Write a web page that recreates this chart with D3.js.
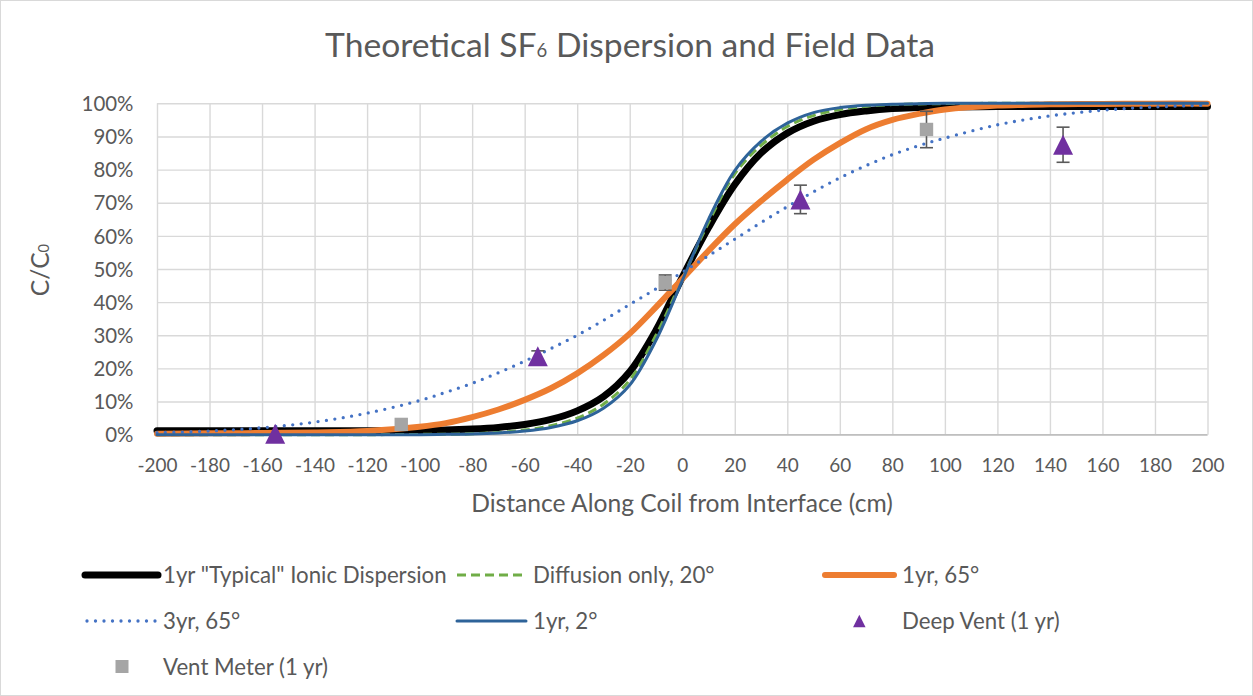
<!DOCTYPE html>
<html><head><meta charset="utf-8">
<script src="https://cdn.jsdelivr.net/npm/d3@7/dist/d3.min.js"></script>
<style>
body{margin:0;background:#fff}
svg{display:block}
text{font-family:Lato,"Open Sans",sans-serif;fill:#595959}
</style>
</head><body>
<svg id="chart" width="1253" height="696"></svg>
<script>
// ---- data ----
const distance = [-200,-180,-160,-140,-120,-100,-90,-80,-70,-60,-50,-40,-30,-20,-10,0,10,20,30,40,50,60,70,80,90,100,120,140,160,180,200];
const typical1yr = [.012,.012,.012,.012,.012,.013,.014,.017,.022,.031,.046,.072,.115,.19,.315,.475,.625,.755,.85,.91,.946,.966,.977,.984,.987,.989,.99,.99,.99,.99,.99];
const diffusion20 = [0,0,0,0,0,.001,.0015,.003,.007,.014,.027,.05,.092,.165,.3,.47,.64,.787,.873,.93,.963,.981,.991,.996,.998,.999,1,1,1,1,1];
const oneYr65 = [.003,.004,.005,.007,.011,.024,.035,.053,.076,.105,.14,.185,.24,.305,.385,.47,.555,.635,.705,.77,.83,.88,.922,.95,.968,.981,.993,.997,.998,.999,.999];
const threeYr65 = [.006,.011,.021,.038,.065,.103,.128,.155,.187,.222,.26,.30,.345,.393,.44,.49,.54,.59,.64,.688,.733,.775,.812,.845,.872,.895,.935,.962,.979,.989,.994];
const oneYr2 = [0,0,0,0,0,0,.001,.002,.005,.011,.022,.042,.08,.15,.285,.465,.65,.797,.885,.94,.972,.987,.994,.997,.999,1,1,1,1,1,1];

const deepVentX = [-155,-55,45,145];
const deepVentY = [0.003,0.237,0.71,0.875];
const deepVentErr = [0,0.016,0.043,0.053];

const ventMeterX = [-107,-6.5,93];
const ventMeterY = [0.031,0.459,0.921];
const ventMeterErr = [0,0.023,0.055];

const xTicks = d3.range(-200,201,20);
const yTicks = d3.range(0,1.0001,0.1);

const seriesNames = ['1yr "Typical" Ionic Dispersion','Diffusion only, 20°','1yr, 65°','3yr, 65°','1yr, 2°','Deep Vent (1 yr)','Vent Meter (1 yr)'];

// ---- layout ----
const svg = d3.select('#chart');
const W = 1253, H = 696;
const plot = {left:157, right:1207.5, top:103.3, bottom:434.7};
const x = d3.scaleLinear().domain([-200,200]).range([plot.left, plot.right]);
const y = d3.scaleLinear().domain([0,1]).range([plot.bottom, plot.top]);

svg.append('rect').attr('x',0.5).attr('y',0.5).attr('width',W-1).attr('height',H-1)
  .attr('fill','#fff').attr('stroke','#d9d9d9');

function fit(sel, target, base){
  sel.style('font-size', base+'px');
  const w = sel.node().getComputedTextLength();
  return base*target/w;
}

// gridlines + axes
const gx = svg.append('g').attr('transform',`translate(0,${plot.bottom})`)
  .call(d3.axisBottom(x).tickValues(xTicks).tickSize(-(plot.bottom-plot.top)).tickFormat(d=>d).tickPadding(0));
gx.select('.domain').remove();
gx.selectAll('line').attr('stroke','#d9d9d9').attr('stroke-width',1.4);
const gy = svg.append('g').attr('transform',`translate(${plot.left},0)`)
  .call(d3.axisLeft(y).tickValues(yTicks).tickSize(-(plot.right-plot.left)).tickFormat(d3.format('.0%')).tickPadding(0));
gy.select('.domain').remove();
gy.selectAll('line').attr('stroke','#d9d9d9').attr('stroke-width',1.4);
svg.append('line').attr('x1',plot.left).attr('x2',plot.right).attr('y1',plot.bottom).attr('y2',plot.bottom)
  .attr('stroke','#bfbfbf').attr('stroke-width',1.5);

// tick label sizing
const yLbl = gy.selectAll('text');
const ySize = fit(d3.select(yLbl.nodes()[yLbl.size()-1]), 52, 20);
yLbl.style('font-size', ySize+'px').attr('fill','#595959').attr('x',-23.5).attr('dy','0.35em')
  .style('font-family','Lato,"Open Sans",sans-serif');
const xLbl = gx.selectAll('text');
const xSize = fit(d3.select(xLbl.nodes()[0]), 40, 20);
xLbl.style('font-size', xSize+'px').attr('fill','#595959').attr('y',30.3).attr('dy','0.35em')
  .style('font-family','Lato,"Open Sans",sans-serif');

// curves
const line = d3.line().curve(d3.curveCatmullRom.alpha(0.5)).x((d,i)=>x(distance[i])).y(d=>y(d));
const curves = [
  {v:typical1yr, stroke:'#000000', w:7, dash:null, cap:'round'},
  {v:diffusion20, stroke:'#70ad47', w:3, dash:'9,5', cap:'butt'},
  {v:oneYr65, stroke:'#ed7d31', w:6, dash:null, cap:'round'},
  {v:threeYr65, stroke:'#4472c4', w:3.3, dash:'0,8.5', cap:'round'},
  {v:oneYr2, stroke:'#2e6399', w:3, dash:null, cap:'round'}
];
curves.forEach(c=>{
  svg.append('path').attr('d',line(c.v)).attr('fill','none').attr('stroke',c.stroke)
    .attr('stroke-width',c.w).attr('stroke-dasharray',c.dash).attr('stroke-linecap',c.cap)
    .attr('stroke-linejoin','round');
});

// error bars
function errBars(xs, ys, es){
  const g = svg.append('g').attr('stroke','#595959').attr('stroke-width',1.6);
  xs.forEach((xv,i)=>{
    if(!es[i]) return;
    const cx = x(xv), y1 = y(ys[i]+es[i]), y2 = y(ys[i]-es[i]);
    g.append('line').attr('x1',cx).attr('x2',cx).attr('y1',y1).attr('y2',y2);
    g.append('line').attr('x1',cx-6.5).attr('x2',cx+6.5).attr('y1',y1).attr('y2',y1);
    g.append('line').attr('x1',cx-6.5).attr('x2',cx+6.5).attr('y1',y2).attr('y2',y2);
  });
}
function tri(cx, cy, s){
  const p = d3.path();
  p.moveTo(cx, cy - s/2); p.lineTo(cx + s/2, cy + s/2); p.lineTo(cx - s/2, cy + s/2); p.closePath();
  return p.toString();
}
errBars(deepVentX, deepVentY, deepVentErr);
errBars(ventMeterX, ventMeterY, ventMeterErr);
deepVentX.forEach((xv,i)=>{
  svg.append('path').attr('d',tri(x(xv), y(deepVentY[i]), 20)).attr('fill','#7030a0');
});
ventMeterX.forEach((xv,i)=>{
  svg.append('rect').attr('x',x(xv)-6.7).attr('y',y(ventMeterY[i])-6.7).attr('width',13.4).attr('height',13.4).attr('fill','#a5a5a5');
});

// title
const title = svg.append('text').attr('x',630).attr('y',57).attr('text-anchor','middle');
title.append('tspan').text('Theoretical SF');
title.append('tspan').text('6').attr('font-size','0.55em');
title.append('tspan').text(' Dispersion and Field Data');
title.style('font-size', fit(title, 610, 30)+'px');

// axis titles
const xt = svg.append('text').attr('x',682).attr('y',512).attr('text-anchor','middle').text('Distance Along Coil from Interface (cm)');
const xtSize = fit(xt, 422, 22);
xt.style('font-size', xtSize+'px');
const yt = svg.append('text').attr('transform','translate(49,270) rotate(-90)').attr('text-anchor','middle');
yt.append('tspan').text('C/C');
yt.append('tspan').text('0').attr('font-size','0.6em');
yt.style('font-size', xtSize+'px');

// legend
const legendItems = [
  {name:seriesNames[0], type:'line', c:curves[0], x0:85, x1:158, tx:163, cy:575},
  {name:seriesNames[1], type:'line', c:curves[1], x0:457, x1:526, tx:533, cy:575},
  {name:seriesNames[2], type:'line', c:curves[2], x0:825, x1:894, tx:902, cy:575},
  {name:seriesNames[3], type:'line', c:curves[3], x0:87, x1:156, tx:163, cy:621},
  {name:seriesNames[4], type:'line', c:curves[4], x0:457, x1:526, tx:533, cy:621},
  {name:seriesNames[5], type:'tri', mx:859.3, tx:902, cy:621},
  {name:seriesNames[6], type:'sq', mx:122, tx:163, cy:666.5}
];
const lg = svg.append('g');
const texts = [];
legendItems.forEach(it=>{
  if(it.type==='line'){
    lg.append('line').attr('x1',it.x0).attr('x2',it.x1).attr('y1',it.cy).attr('y2',it.cy)
      .attr('stroke',it.c.stroke).attr('stroke-width',it.c.w).attr('stroke-dasharray',it.c.dash)
      .attr('stroke-linecap',it.c.cap);
  } else if(it.type==='tri'){
    lg.append('path').attr('d',tri(it.mx,it.cy,12.5)).attr('fill','#7030a0');
  } else {
    lg.append('rect').attr('x',it.mx-6.5).attr('y',it.cy-6.5).attr('width',13).attr('height',13).attr('fill','#a5a5a5');
  }
  texts.push(lg.append('text').attr('x',it.tx).attr('y',it.cy).attr('dy','0.36em').text(it.name));
});
const lSize = fit(texts[5], 157.7, 20);
texts.forEach(t=>t.style('font-size', lSize+'px'));
</script>
</body></html>
